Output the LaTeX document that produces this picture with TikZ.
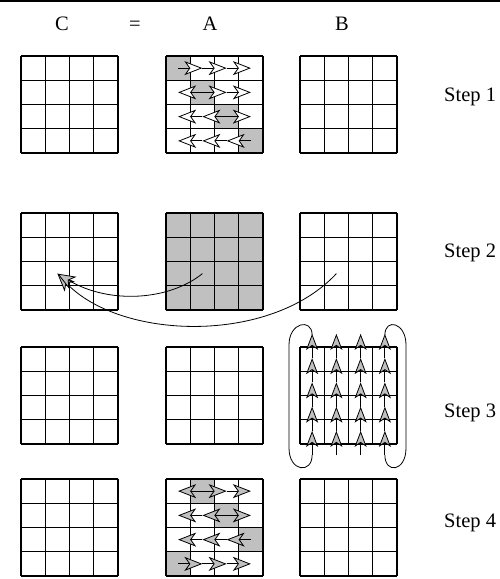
\documentclass[tikz,border=0pt]{standalone}
\usepackage{fontspec}
\setmainfont{Liberation Serif}
\usetikzlibrary{arrows.meta}
\definecolor{shadegray}{RGB}{192,192,192}
\tikzset{
 gl/.style={line width=1.2pt, black},
 hw/.style={line width=0.8pt, -{Stealth[length=18pt,width=14pt,inset=5pt,fill=white]}},
 hg/.style={line width=0.8pt, -{Stealth[length=18pt,width=14pt,inset=5pt,fill=shadegray]}},
 hv/.style={line width=0.8pt, -{Stealth[length=16pt,width=12pt,inset=4pt,fill=shadegray]}},
 lp/.style={line width=0.8pt},
 lbl/.style={font=\fontsize{20.5}{24}\selectfont, inner sep=0pt},
}
\newcommand\mygrid[2]{\foreach \i in {0,...,4}{\draw[gl] ({#1+\i*24.25},#2) -- ++(0,97); \draw[gl] (#1,{#2+\i*24.25}) -- ++(97,0);}}
\newcommand\mycell[4]{\fill[shadegray] ({#1+#3*24.25},{#2+#4*24.25}) rectangle ++(24.25,24.25);}
\newcommand\myarr[6]{\draw[#6] ({#1+(#4+0.5)*24.25},{#2+(#3+0.5)*24.25}) -- ({#1+(#5+0.5)*24.25},{#2+(#3+0.5)*24.25});}
\begin{document}
\begin{tikzpicture}[x=1pt,y=-1pt]
\useasboundingbox (0,0) rectangle (500,579);
\draw[line width=1.5pt] (0,0.75) -- (500,0.75);
% header labels
\node[lbl, anchor=base] (lC) at (62,30) {C};
\node[lbl, anchor=base] (lEq) at (135,30) {=};
\node[lbl, anchor=base] (lA) at (210,30) {A};
\node[lbl, anchor=base] (lB) at (342,30) {B};
% step labels
\node[lbl, anchor=base west] (s1) at (444,101) {Step 1};
\node[lbl, anchor=base west] (s2) at (444,257) {Step 2};
\node[lbl, anchor=base west] (s3) at (444,417) {Step 3};
\node[lbl, anchor=base west] (s4) at (444,527) {Step 4};
% ---------- Step 1 ----------
\mycell{166}{56}{0}{0}
\mycell{166}{56}{1}{1}
\mycell{166}{56}{2}{2}
\mycell{166}{56}{3}{3}
\mygrid{21}{56}
\mygrid{166}{56}
\mygrid{300}{56}
\myarr{166}{56}{0}{0}{1}{hw}
\myarr{166}{56}{0}{1}{2}{hw}
\myarr{166}{56}{0}{2}{3}{hw}
\myarr{166}{56}{1}{1}{0}{hw}
\myarr{166}{56}{1}{1}{2}{hw}
\myarr{166}{56}{1}{2}{3}{hw}
\myarr{166}{56}{2}{2}{1}{hw}
\myarr{166}{56}{2}{1}{0}{hw}
\myarr{166}{56}{2}{2}{3}{hw}
\myarr{166}{56}{3}{3}{2}{hw}
\myarr{166}{56}{3}{2}{1}{hw}
\myarr{166}{56}{3}{1}{0}{hw}
% ---------- Step 2 ----------
\fill[shadegray] (166,213) rectangle ++(97,97);
\mygrid{21}{213}
\mygrid{166}{213}
\mygrid{300}{213}
\coordinate (cT) at (57.4,273.6);
\coordinate (aS) at (202.4,273.6);
\coordinate (bS) at (336.4,273.6);
\draw[hg] (bS) .. controls (270,345) and (120,340) .. (cT);
\draw[hg] (aS) .. controls (170,300) and (110,305) .. (cT);
% ---------- Step 3 ----------
\mygrid{21}{347}
\mygrid{166}{347}
\mygrid{300}{347}
\draw[lp] (312.1,334.9) .. controls (312.1,318) and (289,322) .. (289,345) -- (289,448) .. controls (289,472) and (312.1,474) .. (312.1,455.1);
\draw[lp] (384.9,334.9) .. controls (384.9,318) and (406,322) .. (406,345) -- (406,448) .. controls (406,472) and (384.9,474) .. (384.9,455.1);
\foreach \c in {0,...,3}{
  \foreach \k in {0,...,4}{
    \draw[hv] ({300+(\c+0.5)*24.25},{455.1-\k*24.25}) -- ++(0,-24.25);
  }
}
% ---------- Step 4 ----------
\mycell{166}{479}{1}{0}
\mycell{166}{479}{2}{1}
\mycell{166}{479}{3}{2}
\mycell{166}{479}{0}{3}
\mygrid{21}{479}
\mygrid{166}{479}
\mygrid{300}{479}
\myarr{166}{479}{0}{1}{0}{hg}
\myarr{166}{479}{0}{1}{2}{hg}
\myarr{166}{479}{0}{2}{3}{hg}
\myarr{166}{479}{1}{2}{1}{hg}
\myarr{166}{479}{1}{1}{0}{hg}
\myarr{166}{479}{1}{2}{3}{hg}
\myarr{166}{479}{2}{3}{2}{hg}
\myarr{166}{479}{2}{2}{1}{hg}
\myarr{166}{479}{2}{1}{0}{hg}
\myarr{166}{479}{3}{0}{1}{hg}
\myarr{166}{479}{3}{1}{2}{hg}
\myarr{166}{479}{3}{2}{3}{hg}
\end{tikzpicture}
\end{document}
